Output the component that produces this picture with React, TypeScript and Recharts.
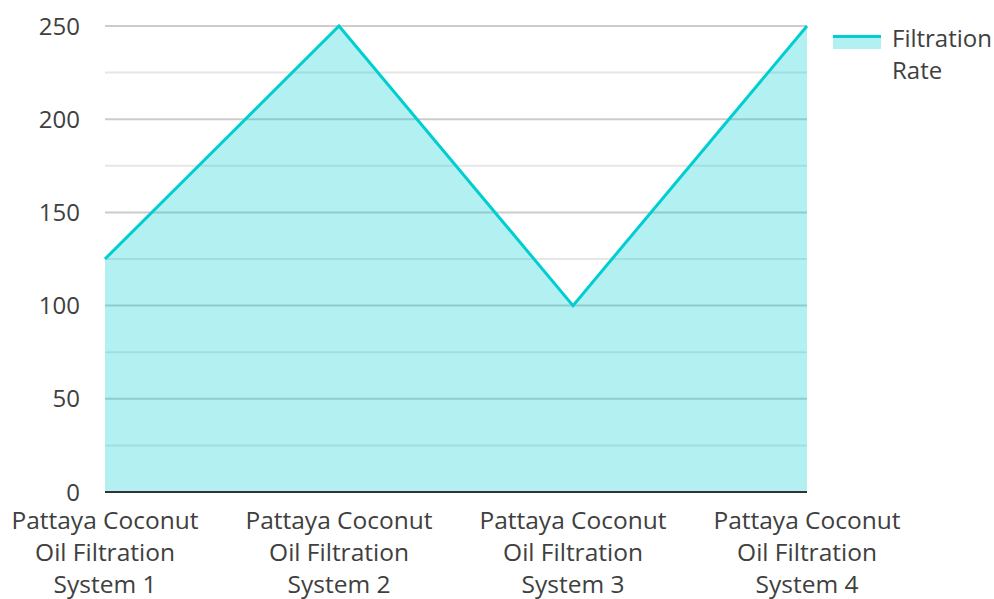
import React from "react";
import {
  AreaChart,
  Area,
  XAxis,
  YAxis,
  CartesianGrid,
} from "recharts";

const categories = [
  "Pattaya Coconut Oil Filtration System 1",
  "Pattaya Coconut Oil Filtration System 2",
  "Pattaya Coconut Oil Filtration System 3",
  "Pattaya Coconut Oil Filtration System 4",
];
const filtrationRate = [125, 250, 100, 250];
const yTicks = [0, 50, 100, 150, 200, 250];
const minorTicks = [25, 75, 125, 175, 225];

const data = categories.map((name, i) => ({ name, rate: filtrationRate[i] }));

const COLORS = {
  line: "#00CED1",
  text: "#404040",
  major: "#cccccc",
  minor: "#e6e6e6",
  axis: "#333333",
};

const FONT = "'Open Sans', 'Noto Sans', sans-serif";

function wrap(label: string, max = 16) {
  const words = label.split(" ");
  const lines: string[] = [];
  let cur = "";
  for (const w of words) {
    const next = cur ? cur + " " + w : w;
    if (next.length > max && cur) {
      lines.push(cur);
      cur = w;
    } else {
      cur = next;
    }
  }
  if (cur) lines.push(cur);
  return lines;
}

function XTick(props: any) {
  const { x, y, payload } = props;
  const lines = wrap(String(payload.value));
  return (
    <g transform={`translate(${x},${y})`}>
      <text
        textAnchor="middle"
        fill={COLORS.text}
        fontSize={24.5}
        fontFamily={FONT}
      >
        {lines.map((l, i) => (
          <tspan key={i} x={0} y={29 + i * 32}>
            {l}
          </tspan>
        ))}
      </text>
    </g>
  );
}

function LegendBox() {
  return (
    <div
      style={{
        position: "absolute",
        left: 833,
        top: 22,
        display: "flex",
        alignItems: "flex-start",
        fontFamily: FONT,
      }}
    >
      <div style={{ width: 48, marginTop: 13, marginRight: 11 }}>
        <div style={{ height: 3, background: COLORS.line }} />
        <div style={{ height: 11, background: "rgba(0,206,209,0.3)" }} />
      </div>
      <div style={{ color: COLORS.text, fontSize: 24, lineHeight: "32px", width: 110 }}>
        Filtration
        <br />
        Rate
      </div>
    </div>
  );
}

export default function App() {
  return (
    <div style={{ position: "absolute", left: 0, top: 0, width: 994, height: 599, background: "#fff" }}>
      <AreaChart
        width={994}
        height={599}
        data={data}
        margin={{ top: 26, right: 187, left: 0, bottom: 0 }}
      >
        <CartesianGrid
          vertical={false}
          horizontalValues={minorTicks}
          stroke={COLORS.minor}
          strokeWidth={2}
        />
        <CartesianGrid
          vertical={false}
          horizontalValues={yTicks}
          stroke={COLORS.major}
          strokeWidth={2}
        />
        <XAxis
          dataKey="name"
          tick={<XTick />}
          tickLine={false}
          axisLine={{ stroke: COLORS.axis, strokeWidth: 2 }}
          interval={0}
          height={107}
        />
        <YAxis
          domain={[0, 250]}
          ticks={yTicks}
          width={105}
          axisLine={false}
          tickLine={false}
          tickSize={0}
          tickMargin={25}
          tick={{ fill: COLORS.text, fontSize: 24, fontFamily: FONT }}
        />
        <Area
          type="linear"
          dataKey="rate"
          name="Filtration Rate"
          stroke={COLORS.line}
          strokeWidth={3}
          fill={COLORS.line}
          fillOpacity={0.3}
          dot={false}
          activeDot={false}
          isAnimationActive={false}
        />
      </AreaChart>
      <LegendBox />
    </div>
  );
}
